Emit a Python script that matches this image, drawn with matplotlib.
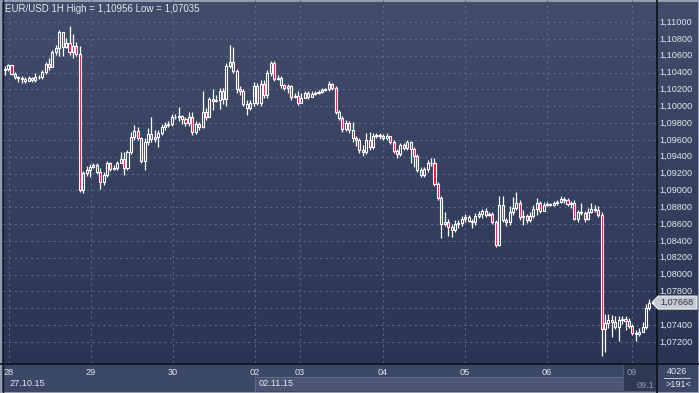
import numpy as np
import matplotlib
matplotlib.use("Agg")
import matplotlib.pyplot as plt
from matplotlib.patches import Rectangle, Polygon
from matplotlib.transforms import Bbox, TransformedBbox

# ---------------- data ----------------
title = "EUR/USD 1H High = 1,10956 Low = 1,07035"
first_open = 1.10424
closes = [
    1.10442, 1.10489, 1.10382, 1.10347, 1.10329, 1.10317, 1.10299, 1.10335, 1.10311, 1.10341,
    1.10347, 1.10406, 1.10501, 1.10465, 1.10644, 1.10691, 1.10881, 1.10703, 1.10750, 1.10644,
    1.10715, 1.10620, 1.09005, 1.09207, 1.09242, 1.09278, 1.09302, 1.09219, 1.09100, 1.09183,
    1.09325, 1.09254, 1.09266, 1.09325, 1.09373, 1.09266, 1.09456, 1.09634, 1.09705, 1.09622,
    1.09349, 1.09575, 1.09670, 1.09610, 1.09634, 1.09682, 1.09753, 1.09777, 1.09789, 1.09872,
    1.09868, 1.09884, 1.09848, 1.09800, 1.09872, 1.09694, 1.09789, 1.09753, 1.09931, 1.09872,
    1.10085, 1.10062, 1.10074, 1.10180, 1.10085, 1.10477, 1.10525, 1.10418, 1.10204, 1.10180,
    1.10026, 1.09979, 1.10038, 1.10240, 1.10038, 1.10264, 1.10133, 1.10394, 1.10513, 1.10323,
    1.10335, 1.10252, 1.10216, 1.10240, 1.10109, 1.10121, 1.10038, 1.10097, 1.10157, 1.10109,
    1.10145, 1.10157, 1.10169, 1.10192, 1.10204, 1.10264, 1.10216, 1.09931, 1.09860, 1.09729,
    1.09800, 1.09717, 1.09622, 1.09599, 1.09480, 1.09456, 1.09599, 1.09515, 1.09646, 1.09658,
    1.09646, 1.09622, 1.09646, 1.09575, 1.09468, 1.09432, 1.09539, 1.09504, 1.09575, 1.09492,
    1.09409, 1.09242, 1.09183, 1.09254, 1.09325, 1.09320, 1.09076, 1.08910, 1.08601, 1.08625,
    1.08565, 1.08530, 1.08601, 1.08613, 1.08660, 1.08684, 1.08637, 1.08625, 1.08696, 1.08720,
    1.08755, 1.08708, 1.08720, 1.08625, 1.08352, 1.08827, 1.08649, 1.08625, 1.08744, 1.08791,
    1.08850, 1.08684, 1.08696, 1.08649, 1.08696, 1.08779, 1.08850, 1.08755, 1.08827, 1.08839,
    1.08827, 1.08850, 1.08862, 1.08898, 1.08886, 1.08839, 1.08850, 1.08660, 1.08744, 1.08732,
    1.08660, 1.08744, 1.08779, 1.08773, 1.08708, 1.07354, 1.07426, 1.07461, 1.07438, 1.07378,
    1.07461, 1.07473, 1.07449, 1.07390, 1.07307, 1.07295, 1.07319, 1.07378, 1.07604, 1.07663,
    1.07668,
]
highs = [
    1.10477, 1.10501, 1.10489, 1.10406, 1.10359, 1.10359, 1.10347, 1.10359, 1.10347, 1.10394,
    1.10370, 1.10430, 1.10525, 1.10572, 1.10667, 1.10727, 1.10905, 1.10869, 1.10810, 1.10956,
    1.10857, 1.10762, 1.10715, 1.09230, 1.09290, 1.09314, 1.09325, 1.09325, 1.09266, 1.09219,
    1.09349, 1.09337, 1.09302, 1.09349, 1.09456, 1.09456, 1.09480, 1.09694, 1.09777, 1.09753,
    1.09634, 1.09622, 1.09741, 1.09872, 1.09717, 1.09717, 1.09789, 1.09812, 1.09824, 1.09907,
    1.09907, 1.09990, 1.09895, 1.09872, 1.09931, 1.09931, 1.09824, 1.09812, 1.10180, 1.09979,
    1.10109, 1.10204, 1.10133, 1.10216, 1.10216, 1.10513, 1.10727, 1.10703, 1.10442, 1.10240,
    1.10204, 1.10074, 1.10074, 1.10287, 1.10275, 1.10311, 1.10311, 1.10430, 1.10537, 1.10537,
    1.10370, 1.10359, 1.10264, 1.10264, 1.10252, 1.10157, 1.10180, 1.10157, 1.10180, 1.10180,
    1.10180, 1.10180, 1.10192, 1.10216, 1.10216, 1.10299, 1.10275, 1.10240, 1.09955, 1.09884,
    1.09836, 1.09824, 1.09812, 1.09646, 1.09622, 1.09539, 1.09682, 1.09694, 1.09682, 1.09682,
    1.09682, 1.09670, 1.09682, 1.09646, 1.09599, 1.09492, 1.09563, 1.09563, 1.09599, 1.09587,
    1.09515, 1.09432, 1.09278, 1.09278, 1.09361, 1.09385, 1.09385, 1.09100, 1.08934, 1.08744,
    1.08660, 1.08601, 1.08649, 1.08649, 1.08696, 1.08720, 1.08708, 1.08660, 1.08732, 1.08755,
    1.08779, 1.08791, 1.08744, 1.08744, 1.08649, 1.08934, 1.08934, 1.08672, 1.08815, 1.08922,
    1.08981, 1.08886, 1.08767, 1.08720, 1.08744, 1.08827, 1.08910, 1.08874, 1.08862, 1.08862,
    1.08850, 1.08874, 1.08886, 1.08934, 1.08922, 1.08910, 1.08874, 1.08886, 1.08767, 1.08850,
    1.08755, 1.08791, 1.08850, 1.08827, 1.08815, 1.08744, 1.07533, 1.07533, 1.07521, 1.07509,
    1.07509, 1.07509, 1.07509, 1.07485, 1.07414, 1.07343, 1.07366, 1.07438, 1.07650, 1.07710,
    1.07675,
]
lows = [
    1.10370, 1.10418, 1.10370, 1.10323, 1.10287, 1.10275, 1.10275, 1.10299, 1.10287, 1.10287,
    1.10323, 1.10323, 1.10382, 1.10430, 1.10477, 1.10608, 1.10596, 1.10596, 1.10691, 1.10608,
    1.10572, 1.10596, 1.08981, 1.08969, 1.09171, 1.09159, 1.09266, 1.09195, 1.09017, 1.09064,
    1.09159, 1.09230, 1.09242, 1.09242, 1.09325, 1.09183, 1.09242, 1.09432, 1.09599, 1.09599,
    1.09325, 1.09242, 1.09539, 1.09575, 1.09575, 1.09515, 1.09658, 1.09717, 1.09753, 1.09765,
    1.09848, 1.09824, 1.09789, 1.09765, 1.09765, 1.09658, 1.09670, 1.09717, 1.09741, 1.09836,
    1.09955, 1.09955, 1.10050, 1.09967, 1.10026, 1.10002, 1.10454, 1.10394, 1.10157, 1.10133,
    1.10002, 1.09895, 1.09955, 1.10002, 1.10014, 1.10002, 1.10097, 1.10097, 1.10359, 1.10299,
    1.10311, 1.10216, 1.10192, 1.10157, 1.10074, 1.10097, 1.10014, 1.10074, 1.10121, 1.10085,
    1.10109, 1.10133, 1.10145, 1.10157, 1.10180, 1.10180, 1.10192, 1.09907, 1.09836, 1.09694,
    1.09705, 1.09682, 1.09575, 1.09527, 1.09444, 1.09409, 1.09432, 1.09480, 1.09492, 1.09622,
    1.09610, 1.09599, 1.09599, 1.09551, 1.09444, 1.09385, 1.09409, 1.09480, 1.09480, 1.09325,
    1.09278, 1.09219, 1.09159, 1.09159, 1.09219, 1.09290, 1.09052, 1.08886, 1.08435, 1.08577,
    1.08459, 1.08447, 1.08506, 1.08554, 1.08577, 1.08625, 1.08625, 1.08554, 1.08589, 1.08672,
    1.08672, 1.08684, 1.08696, 1.08601, 1.08328, 1.08340, 1.08625, 1.08577, 1.08589, 1.08708,
    1.08767, 1.08649, 1.08589, 1.08613, 1.08625, 1.08672, 1.08708, 1.08732, 1.08791, 1.08815,
    1.08815, 1.08815, 1.08827, 1.08850, 1.08850, 1.08815, 1.08791, 1.08649, 1.08625, 1.08708,
    1.08625, 1.08649, 1.08732, 1.08744, 1.08684, 1.07035, 1.07081, 1.07366, 1.07259, 1.07354,
    1.07212, 1.07414, 1.07343, 1.07366, 1.07283, 1.07212, 1.07271, 1.07343, 1.07354, 1.07580,
    1.07660,
]
day_labels = ['28', '29', '30', '02', '03', '04', '05', '06', '09']
day_pos = [1.26, 25.3, 49.34, 73.38, 86.57, 110.9, 134.9, 159.0, 183.9]
week_labels = ['27.10.15', '02.11.15', '09.1']   # last one is cut off by the price panel
price_ticks = [1.072, 1.074, 1.076, 1.078, 1.080, 1.082, 1.084, 1.086, 1.088, 1.090,
               1.092, 1.094, 1.096, 1.098, 1.100, 1.102, 1.104, 1.106, 1.108, 1.110]
last_price = 1.07668
bars_total_label = '4026'
bars_visible_label = '>191<'

# ---------------- style ----------------
W, H = 699, 393
BG_TOP = '#414d6b'
BG_BOT = '#2a3553'
GRID = '#5b6782'
TXT = '#e2e6ee'
RED = '#e3123e'
FONT = 'Liberation Sans'

fig = plt.figure(figsize=(W / 100, H / 100), dpi=100)

# overlay (pixel coordinates) for backgrounds / panels
bg = fig.add_axes([0, 0, 1, 1], zorder=0)
bg.set_xlim(0, W)
bg.set_ylim(H, 0)
bg.axis('off')
grad = np.linspace(0, 1, 256)[:, None]
cmap = matplotlib.colors.LinearSegmentedColormap.from_list('bgc', [BG_TOP, BG_BOT])
bg.imshow(grad, cmap=cmap, extent=(0, W, 363, 0), aspect='auto', interpolation='bilinear')
# bottom panel
bg.add_patch(Rectangle((0, 363), W, 30, facecolor='#3b4766', edgecolor='none'))
bg.add_patch(Rectangle((255, 377), 368, 14, facecolor='#4a5674', edgecolor='none'))
bg.plot([255, 623], [377, 377], color='#5d6986', lw=0.8)
bg.plot([255, 255], [377, 391], color='#5d6986', lw=0.8)
bg.add_patch(Rectangle((623, 364), 33, 27, facecolor='#2e3953', edgecolor='#4a5674', lw=0.8))
# separators
bg.plot([656.5, 656.5], [0, H], color='#0b0f18', lw=1.2)
bg.plot([0, W], [363.5, 363.5], color='#0b0f18', lw=1.2)
bg.plot([2.5, 2.5], [0, H], color='#151b29', lw=1.0)
bg.plot([664, 690], [377.5, 377.5], color='#c8ccd6', lw=0.7)
# outer frame
bg.add_patch(Rectangle((0.5, 0.5), W - 1, H - 1, facecolor='none', edgecolor='#a7afbf', lw=1.2))

# price labels (right panel)
y0, y1 = 1.069506, 1.11261
def ypix(p):
    return (y1 - p) / (y1 - y0) * 363.0

yc = ypix(last_price)
for p in price_ticks:
    if abs(ypix(p) - yc) < 8:
        continue  # hidden under the current-price tag, as in the reference
    bg.text(659.5, ypix(p), f"{p:.5f}".replace('.', ','), color=TXT, fontsize=6.6,
            family=FONT, va='center', ha='left')

# current price tag
bg.add_patch(Polygon([(652, yc), (658, yc - 6.5), (697, yc - 6.5), (697, yc + 6.5), (658, yc + 6.5)],
                     closed=True, facecolor='#c6cad3', edgecolor='#eceef2', lw=0.8, zorder=5))
bg.text(660, yc, f"{last_price:.5f}".replace('.', ','), color='#2b3040', fontsize=6.6,
        family=FONT, va='center', ha='left', zorder=6)

# bottom date labels
px_per_bar = 3.411
x_first = 4.7
def xpix(i):
    return x_first + px_per_bar * i

for lab, pos in zip(day_labels, day_pos):
    col = TXT if lab != '09' else '#8e99b0'
    bg.text(xpix(pos), 372.5, lab, color=col, fontsize=6.6, family=FONT, ha='center', va='center')
bg.text(9, 384, week_labels[0], color=TXT, fontsize=6.6, family=FONT, ha='left', va='center')
bg.text(259, 384, week_labels[1], color=TXT, fontsize=6.6, family=FONT, ha='left', va='center')
t = bg.text(637, 385, week_labels[2], color='#8e99b0', fontsize=6.6, family=FONT, ha='left', va='center')
t.set_clip_box(TransformedBbox(Bbox([[623, 364], [655.5, 391]]), bg.transData))
t.set_clip_on(True)
bg.text(677, 371, bars_total_label, color=TXT, fontsize=6.6, family=FONT, ha='center', va='center')
bg.text(678, 384.5, bars_visible_label, color=TXT, fontsize=6.6, family=FONT, ha='center', va='center')

# ---------------- main candle axes ----------------
ax = fig.add_axes([3 / W, 30 / H, 653 / W, 363 / H], zorder=1)
ax.patch.set_alpha(0)
for s in ax.spines.values():
    s.set_visible(False)
ax.set_xticks([])
ax.set_yticks([])

c = np.array(closes)
o = np.array([first_open] + closes[:-1])
h = np.maximum(np.array(highs), np.maximum(o, c))
l = np.minimum(np.array(lows), np.minimum(o, c))
x = np.arange(len(c))
up = c >= o
bhi = np.maximum(o, c)
blo = np.minimum(o, c)

xl = (3 - x_first) / px_per_bar
xr = (656 - x_first) / px_per_bar
ax.set_xlim(xl, xr)
ax.set_ylim(y0, y1)

# grid
for p in price_ticks:
    ax.axhline(p, color=GRID, lw=0.8, dashes=(2, 3), zorder=1)
for pos in day_pos:
    ax.axvline(pos, color=GRID, lw=0.8, dashes=(2, 3), zorder=1)

ax.vlines(x, bhi, h, color='white', lw=0.9, zorder=3)
ax.vlines(x, l, blo, color='white', lw=0.9, zorder=3)
faces = ['none' if u else RED for u in up]
ax.bar(x, bhi - blo, bottom=blo, width=0.6, color=faces, edgecolor='white',
       linewidth=0.8, zorder=4)

# title
fig.text(5 / W, 1 - 8.5 / H, title, color=TXT, fontsize=7, family=FONT, ha='left', va='center', zorder=10)

fig.savefig('out.png', dpi=100)
